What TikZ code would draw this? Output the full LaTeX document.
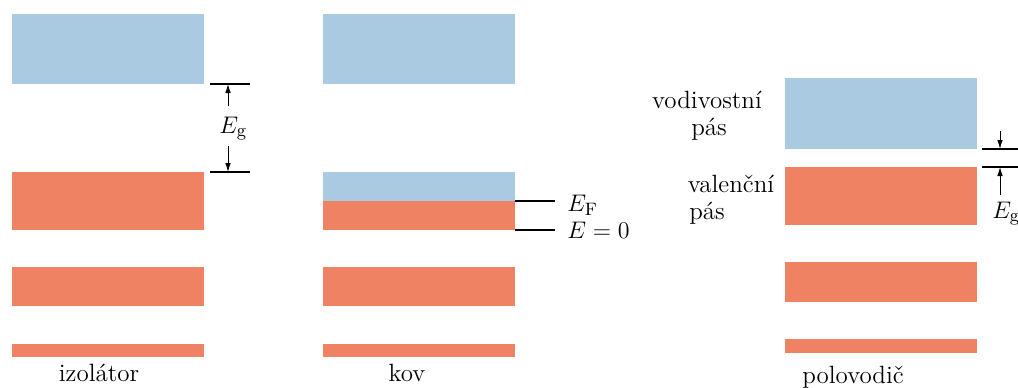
\documentclass[tikz,border=0pt]{standalone}
\usepackage{tikz}
\usetikzlibrary{arrows.meta, positioning}
\definecolor{condcolor}{RGB}{169, 202, 225}
\definecolor{valcolor}{RGB}{240, 130, 100}

\begin{document}
\begin{tikzpicture}[
    x=0.5pt, y=-0.5pt,
    band/.style={rectangle, inner sep=0pt, outer sep=0pt, minimum width=96pt},
    cband/.style={band, fill=condcolor},
    vband/.style={band, fill=valcolor},
    lbl/.style={inner sep=0pt, anchor=base, font=\fontsize{12.5}{15}\selectfont},
    mlbl/.style={inner sep=0pt, anchor=base west, font=\fontsize{13}{15}\selectfont},
    level/.style={line width=0.8pt},
    gaparrow/.style={-{Latex[length=4.5pt, width=2.8pt]}, line width=0.5pt}
]
    \useasboundingbox (0,0) rectangle (1018,387);

    % Insulator
    \node[cband, minimum height=35pt] (izc) at (108, 49) {};
    \node[vband, minimum height=29pt] (izv) at (108, 201) {};
    \node[vband, minimum height=19.5pt] (izb) at (108, 286.5) {};
    \node[vband, minimum height=6.5pt] (izd) at (108, 350.5) {};
    \node[lbl] (izlbl) at (99, 381) {izolátor};

    % Metal
    \node[cband, minimum height=35pt] (kovc) at (419, 49) {};
    \node[cband, minimum height=14.5pt] (kovf) at (419, 186.5) {};
    \node[vband, minimum height=14.5pt] (kovv) at (419, 215.5) {};
    \node[vband, minimum height=19.5pt] (kovb) at (419, 286.5) {};
    \node[vband, minimum height=6.5pt] (kovd) at (419, 350.5) {};
    \node[lbl] (kovlbl) at (407, 381) {kov};

    % Semiconductor
    \node[cband, minimum height=35.5pt] (polc) at (880.5, 113.5) {};
    \node[vband, minimum height=29pt] (polv) at (880.5, 196) {};
    \node[vband, minimum height=20pt] (polb) at (880.5, 282) {};
    \node[vband, minimum height=7pt] (pold) at (880.5, 346) {};
    \node[lbl] (pollbl) at (853, 383) {polovodič};
    \node[lbl] (vod1) at (707, 108) {vodivostní};
    \node[lbl] (vod2) at (709, 135) {pás};
    \node[lbl] (val1) at (731, 192) {valenční};
    \node[lbl] (val2) at (707, 219) {pás};

    % Gap of the insulator
    \coordinate (iztopa) at (210, 84);
    \coordinate (iztopb) at (250, 84);
    \coordinate (izbota) at (210, 172);
    \coordinate (izbotb) at (250, 172);
    \coordinate (izup) at (228, 106);
    \coordinate (izupend) at (228, 84);
    \coordinate (izdn) at (228, 146);
    \coordinate (izdnend) at (228, 172);
    \draw[level] (iztopa) -- (iztopb);
    \draw[level] (izbota) -- (izbotb);
    \draw[gaparrow] (izup) -- (izupend);
    \draw[gaparrow] (izdn) -- (izdnend);
    \node[mlbl] (izeg) at (219, 133) {$E_{\mathrm{g}}$};

    % Fermi level of the metal
    \coordinate (efa) at (515, 201);
    \coordinate (efb) at (555, 201);
    \coordinate (e0a) at (515, 230);
    \coordinate (e0b) at (555, 230);
    \draw[level] (efa) -- (efb);
    \draw[level] (e0a) -- (e0b);
    \node[mlbl] (eflbl) at (567, 211) {$E_{\mathrm{F}}$};
    \node[mlbl] (e0lbl) at (567, 238) {$E=0$};

    % Gap of the semiconductor
    \coordinate (poltopa) at (982, 149);
    \coordinate (poltopb) at (1018, 149);
    \coordinate (polbota) at (982, 167);
    \coordinate (polbotb) at (1018, 167);
    \coordinate (poldn) at (1000, 131);
    \coordinate (poldnend) at (1000, 149);
    \coordinate (polup) at (1000, 195);
    \coordinate (polupend) at (1000, 167);
    \draw[level] (poltopa) -- (poltopb);
    \draw[level] (polbota) -- (polbotb);
    \draw[gaparrow] (poldn) -- (poldnend);
    \draw[gaparrow] (polup) -- (polupend);
    \node[mlbl] (poleg) at (992, 218) {$E_{\mathrm{g}}$};

\end{tikzpicture}
\end{document}
